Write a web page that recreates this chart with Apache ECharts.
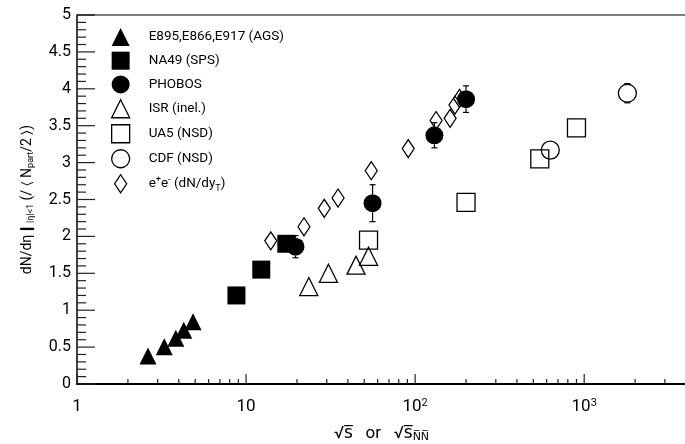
<!DOCTYPE html>
<html>
<head>
<meta charset="utf-8">
<script src="https://cdn.jsdelivr.net/npm/echarts@6/dist/echarts.min.js"></script>
<style>
  html, body { margin: 0; padding: 0; background: #fff; }
  #chart { width: 685px; height: 444px; }
</style>
</head>
<body>
<div id="chart"></div>
<script>
// Charged-particle density per participant pair vs. collision energy
const agsX = [2.63, 3.28, 3.84, 4.28, 4.86];
const agsY = [0.38, 0.505, 0.62, 0.73, 0.845];

const na49X = [8.77, 12.3, 17.3];
const na49Y = [1.20, 1.55, 1.90];

const phobosX = [19.6, 56, 130, 200];
const phobosY = [1.86, 2.45, 3.37, 3.86];
const phobosErr = [0.15, 0.25, 0.17, 0.18];

const isrX = [23.5, 30.7, 44.7, 53];
const isrY = [1.32, 1.50, 1.61, 1.73];

const ua5X = [53, 200, 546, 900];
const ua5Y = [1.95, 2.46, 3.05, 3.47];

const cdfX = [630, 1800];
const cdfY = [3.17, 3.94];
const cdfErr = [0.03, 0.13];

const eeX = [14, 22, 29, 35, 55, 91, 133, 161, 172, 183];
const eeY = [1.94, 2.13, 2.38, 2.52, 2.89, 3.19, 3.57, 3.60, 3.78, 3.87];

// Axis ticks
const majorXTicks = [1, 10, 100, 1000];
const minorXTicks = [2, 3, 4, 5, 6, 7, 8, 9, 20, 30, 40, 50, 60, 70, 80, 90,
                     200, 300, 400, 500, 600, 700, 800, 900, 2000, 3000, 4000];
const xLabels = ['1', '10', '10{sup|2}', '10{sup|3}'];
const majorYTicks = [0, 0.5, 1, 1.5, 2, 2.5, 3, 3.5, 4, 4.5, 5];
const minorYSteps = [0.1, 0.2, 0.3, 0.4];

const X_MIN = 1, X_MAX = 4000, Y_MIN = 0, Y_MAX = 5;

const names = ['E895,E866,E917 (AGS)', 'NA49 (SPS)', 'PHOBOS', 'ISR (inel.)',
               'UA5 (NSD)', 'CDF (NSD)', 'e+e- (dN/dyT)'];
const legendText = {
  'e+e- (dN/dyT)': 'e{sup|+}e{sup|-} (dN/dy{sub|T})'
};

const FONT = 'Roboto, "DejaVu Sans", sans-serif';
const pairs = (xs, ys) => xs.map((x, i) => [x, ys[i]]);
const triples = (xs, ys, es) => xs.map((x, i) => [x, ys[i], es[i]]);

const openStyle = { color: 'rgba(0,0,0,0)', borderColor: '#000', borderWidth: 1.3, opacity: 1 };
const filledStyle = { color: '#000', opacity: 1 };

function scatter(name, xs, ys, symbol, size, style, z) {
  return {
    type: 'scatter', name, data: pairs(xs, ys), symbol, symbolSize: size,
    itemStyle: style, z, silent: true
  };
}

// Vertical error bars, drawn only where they stick out of the marker
function errorBars(name, xs, ys, es, radius) {
  return {
    type: 'custom', name, data: triples(xs, ys, es), z: 3, silent: true,
    encode: { x: 0, y: 1 },
    renderItem(params, api) {
      const x = api.value(0), y = api.value(1), e = api.value(2);
      const c = api.coord([x, y]);
      const top = api.coord([x, y + e])[1];
      const bot = api.coord([x, y - e])[1];
      const st = { stroke: '#000', lineWidth: 1.2 };
      const kids = [];
      if (c[1] - top > radius) {
        kids.push({ type: 'line', shape: { x1: c[0], y1: c[1] - radius, x2: c[0], y2: top }, style: st });
        kids.push({ type: 'line', shape: { x1: c[0] - 3, y1: top, x2: c[0] + 3, y2: top }, style: st });
      }
      if (bot - c[1] > radius) {
        kids.push({ type: 'line', shape: { x1: c[0], y1: c[1] + radius, x2: c[0], y2: bot }, style: st });
        kids.push({ type: 'line', shape: { x1: c[0] - 3, y1: bot, x2: c[0] + 3, y2: bot }, style: st });
      }
      return { type: 'group', children: kids };
    }
  };
}

// Inward tick marks: [x, y, dx, dy], (dx, dy) being the tick's extent in pixels
const tickData = [];
majorXTicks.forEach(v => tickData.push([v, Y_MIN, 0, -10]));
minorXTicks.forEach(v => tickData.push([v, Y_MIN, 0, -5]));
majorYTicks.forEach(v => tickData.push([X_MIN, v, 18, 0]));
majorYTicks.slice(0, -1).forEach(v => minorYSteps.forEach(s => tickData.push([X_MIN, +(v + s).toFixed(2), 9, 0])));

const TICK_STYLE = { stroke: '#222', lineWidth: 1.2 };
const FRAME_STYLE = { stroke: '#000', lineWidth: 1.2 };

const diamondPath = 'path://M6,0L12,9L6,18L0,9Z';

const chart = echarts.init(document.getElementById('chart'));
chart.setOption({
  animation: false,
  grid: {
    left: 77, right: -1, top: 15, bottom: 60,
    outerBoundsMode: 'none', containLabel: false
  },
  legend: {
    orient: 'vertical', left: 106, top: 23,
    itemWidth: 18, itemHeight: 18, itemGap: 5.7,
    selectedMode: false,
    itemStyle: { borderWidth: 1.3 },
    data: names.map(n => n === names[6] ? { name: n, icon: diamondPath } : { name: n }),
    formatter: n => legendText[n] || n,
    textStyle: {
      fontFamily: FONT, fontSize: 13.5, color: '#000', lineHeight: 18,
      padding: [0, 0, 0, 14],
      rich: {
        sup: { fontFamily: FONT, fontSize: 9, color: '#000', verticalAlign: 'top', lineHeight: 12 },
        sub: { fontFamily: FONT, fontSize: 9, color: '#000', verticalAlign: 'bottom', lineHeight: 12 }
      }
    }
  },
  xAxis: {
    type: 'log', logBase: 10, min: X_MIN, max: X_MAX, position: 'bottom',
    axisLine: { show: true, lineStyle: { color: '#000', width: 2 } },
    axisTick: { show: false },
    axisLabel: {
      showMaxLabel: false,
      formatter: v => xLabels[majorXTicks.indexOf(Math.round(v))] || '',
      fontFamily: FONT, fontSize: 17, color: '#000', margin: 14,
      rich: { sup: { fontFamily: FONT, fontSize: 11, color: '#000', verticalAlign: 'top' } }
    },
    splitLine: { show: false },
    name: '{t|\u221As\u0305}   {t|or}   {t|\u221As\u0305}{sub|N\u0305N\u0305}',
    nameLocation: 'middle', nameGap: 40,
    nameTextStyle: {
      fontFamily: FONT, fontSize: 17, color: '#000',
      rich: {
        t: { fontFamily: FONT, fontSize: 17, color: '#000' },
        sub: { fontFamily: FONT, fontSize: 11, color: '#000', verticalAlign: 'bottom', padding: [8, 0, 0, 0] }
      }
    }
  },
  yAxis: {
    type: 'value', min: Y_MIN, max: Y_MAX, interval: 0.5,
    axisLine: { show: true, lineStyle: { color: '#000', width: 1.5 } },
    axisTick: { show: false },
    minorTick: { show: false },
    axisLabel: { fontFamily: FONT, fontSize: 16, color: '#000', margin: 6 },
    splitLine: { show: false },
    name: '{m|dN/d\u03B7}{bar|\u2759}{sub||\u03B7|<1}{m| (/ \u2329 N}{sub|part}{m|/2 \u232A)}',
    nameLocation: 'middle', nameGap: 42,
    nameTextStyle: {
      fontFamily: FONT, fontSize: 14, color: '#000',
      rich: {
        m: { fontFamily: FONT, fontSize: 14, color: '#000' },
        bar: { fontFamily: '"DejaVu Sans"', fontSize: 14, color: '#000' },
        sub: { fontFamily: FONT, fontSize: 9, color: '#000', verticalAlign: 'bottom', padding: [7, 0, 0, 0] }
      }
    }
  },
  series: [
    scatter(names[0], agsX, agsY, 'triangle', 17, filledStyle, 2),
    scatter(names[1], na49X, na49Y, 'rect', 18, filledStyle, 2),
    scatter(names[2], phobosX, phobosY, 'circle', 18, filledStyle, 3),
    scatter(names[3], isrX, isrY, 'triangle', 18, openStyle, 2),
    scatter(names[4], ua5X, ua5Y, 'rect', 18, openStyle, 2),
    scatter(names[5], cdfX, cdfY, 'circle', 18, openStyle, 2),
    scatter(names[6], eeX, eeY, 'diamond', [12, 18], openStyle, 1),
    errorBars('PHOBOS errors', phobosX, phobosY, phobosErr, 9),
    errorBars('CDF errors', cdfX, cdfY, cdfErr, 9)
  ]
});

// Tick marks and the top frame line, placed through the axes' own scales
// and drawn on a separate layer above the plot.
const toPx = v => chart.convertToPixel({ xAxisIndex: 0, yAxisIndex: 0 }, v);
const frameElements = [];
tickData.forEach(t => {
  const p = toPx([t[0], t[1]]);
  frameElements.push({
    type: 'line', silent: true, zlevel: 1, z: 100,
    shape: { x1: p[0], y1: p[1], x2: p[0] + t[2], y2: p[1] + t[3] },
    style: TICK_STYLE
  });
});
const topLeft = toPx([X_MIN, Y_MAX]);
const topRight = toPx([X_MAX, Y_MAX]);
frameElements.push({
  type: 'line', silent: true, zlevel: 1, z: 100,
  shape: { x1: topLeft[0], y1: topLeft[1], x2: topRight[0], y2: topRight[1] },
  style: FRAME_STYLE
});
chart.setOption({ graphic: { elements: frameElements } });
</script>
</body>
</html>
